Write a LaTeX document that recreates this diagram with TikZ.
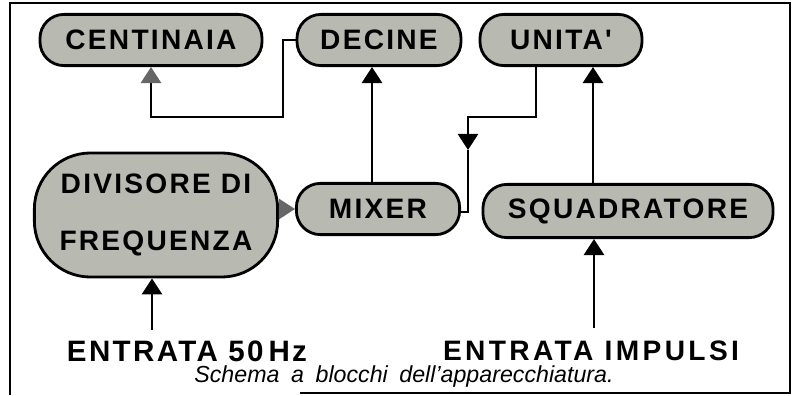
\documentclass[tikz,border=0pt]{standalone}
\usepackage{fontspec}
\usetikzlibrary{arrows.meta}
\setmainfont{Liberation Sans}
\newfontfamily\blockfont[LetterSpace=8]{Liberation Sans}
\newfontfamily\inputfont[LetterSpace=12]{Liberation Sans}
\newfontfamily\captionfont[WordSpace=1.8,Ligatures=TeX]{Liberation Sans}
\definecolor{blockgray}{RGB}{184,186,178}

\begin{document}
\begin{tikzpicture}[x=0.025cm,y=-0.025cm,
    block/.style={draw,line width=2pt,fill=blockgray,rounded corners=0.6cm,
      minimum height=1.28cm,inner sep=0pt,font={\blockfont\bfseries\fontsize{20}{24}\selectfont}},
    arrow/.style={line width=2pt,-{Triangle[width=0.5cm,length=0.4cm]}},
    grayarrow/.style={line width=2pt,-{Triangle[width=0.5cm,length=0.4cm,color=black!60]}}]
    \useasboundingbox (0,0) rectangle (796,395);
    \draw[line width=2pt] (300,393) -| (790,3) -| (10,395);

    \node[block,minimum width=5.55cm] (centinaia) at (151,40) {CENTINAIA};
    \node[block,minimum width=4.1cm]  (decine)    at (379,40) {DECINE};
    \node[block,minimum width=4.05cm] (unita)     at (561,40) {UNITA'};
    \node[block,minimum width=6.08cm,minimum height=3.1cm,rounded corners=1.4cm,align=center]
      (divisore) at (156,215) {DIVISORE DI\\[16pt]FREQUENZA};
    \node[block,minimum width=4.08cm] (mixer) at (378,209) {MIXER};
    \node[block,minimum width=7.25cm,minimum height=1.33cm] (squadratore) at (628,211) {SQUADRATORE};

    \node[inner sep=0pt,font={\blockfont\bfseries\fontsize{21}{25}\selectfont}] (in50) at (187,351) {ENTRATA 50\,Hz};
    \node[inner sep=0pt,font={\inputfont\bfseries\fontsize{20}{24}\selectfont}] (inimp) at (591,351) {ENTRATA IMPULSI};
    \node[inner sep=0pt,font={\captionfont\itshape\fontsize{16.5}{19}\selectfont}] (caption) at (404,376) {Schema a blocchi dell'apparecchiatura.};

    \coordinate (c1) at (283,117);
    \draw[grayarrow] (decine.west) -| (c1) -| (centinaia.south);
    \draw[arrow] ([xshift=-0.15cm]mixer.north) -- ([xshift=-0.15cm]mixer.north |- decine.south);
    \coordinate (u1) at (468,117);
    \coordinate (u2) at (468,150);
    \draw[arrow] ([xshift=-0.625cm]unita.south) |- (u1) -- (u2);
    \draw[line width=2pt] (u2) |- ([yshift=-0.075cm]mixer.east);
    \draw[arrow] ([xshift=-0.875cm]squadratore.north) -- ([xshift=-0.875cm]squadratore.north |- unita.south);
    \draw[grayarrow] (mixer.west -| divisore.east) -- (mixer.west);
    \coordinate (s50) at (152,330);
    \draw[arrow] (s50) -- (s50 |- divisore.south);
    \coordinate (simp) at (594,328);
    \draw[arrow] (simp) -- (simp |- squadratore.south);
\end{tikzpicture}
\end{document}
